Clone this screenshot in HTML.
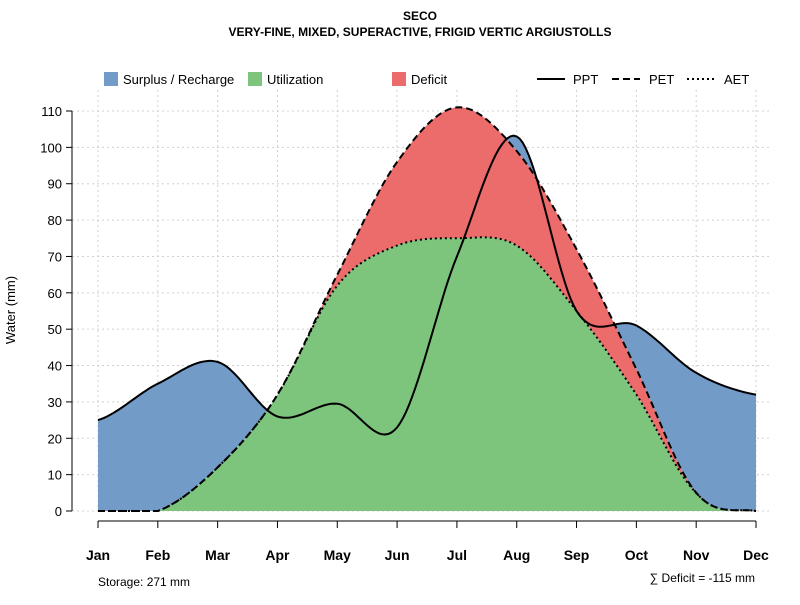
<!DOCTYPE html>
<html><head><meta charset="utf-8"><style>
body{margin:0;background:#fff}
svg{font-family:"Liberation Sans",sans-serif}
</style></head><body>
<svg id="c" width="800" height="600">
<text x="420" y="20" text-anchor="middle" font-size="12" font-weight="bold">SECO</text>
<text x="420" y="36" text-anchor="middle" font-size="12" font-weight="bold">VERY-FINE, MIXED, SUPERACTIVE, FRIGID VERTIC ARGIUSTOLLS</text>
<g id="grid"></g><g id="fills"></g><g id="lines"></g><g id="axes"></g>
<g font-size="13">
<rect x="104" y="72" width="14" height="14" fill="#729bc8"/>
<text x="123" y="84">Surplus / Recharge</text>
<rect x="248" y="72" width="14" height="14" fill="#7dc47c"/>
<text x="267" y="84">Utilization</text>
<rect x="392" y="72" width="14" height="14" fill="#ec6b6b"/>
<text x="411" y="84">Deficit</text>
<line x1="537" y1="79" x2="565" y2="79" stroke="#000" stroke-width="2"/>
<text x="573" y="84">PPT</text>
<line x1="612" y1="79" x2="640" y2="79" stroke="#000" stroke-width="2" stroke-dasharray="7,4"/>
<text x="649" y="84">PET</text>
<line x1="687" y1="79" x2="715" y2="79" stroke="#000" stroke-width="2" stroke-dasharray="2,3"/>
<text x="724" y="84">AET</text>
</g>
<text x="15" y="310" transform="rotate(-90 15 310)" text-anchor="middle" font-size="13">Water (mm)</text>
<text x="98" y="586" font-size="12">Storage: 271 mm</text>
<text x="755" y="582" text-anchor="end" font-size="12">∑ Deficit = -115 mm</text>
</svg>
<script>
const months=["Jan","Feb","Mar","Apr","May","Jun","Jul","Aug","Sep","Oct","Nov","Dec"];
const ppt=[25,35,41,26,29.5,23,70,103,55,51,38,32];
const pet=[0,0,12,32,65,96,111,99,72,39,5,0];
const aet=[0,0,12,32,62,73,75,73,55,32,5,0];
const yTicks=[0,10,20,30,40,50,60,70,80,90,100,110];
const NS="http://www.w3.org/2000/svg";
const X=i=>98+i*(756-98)/11, Y=v=>511-v*(400/110);
function mk(t,a,p){const e=document.createElementNS(NS,t);for(const k in a)e.setAttribute(k,a[k]);document.getElementById(p).appendChild(e);return e;}
function smooth(arr){const pts=[];const n=arr.length;for(let i=0;i<n-1;i++){const p0=arr[Math.max(0,i-1)],p1=arr[i],p2=arr[i+1],p3=arr[Math.min(n-1,i+2)];for(let s=0;s<20;s++){const t=s/20,t2=t*t,t3=t2*t;const v=0.5*((2*p1)+(-p0+p2)*t+(2*p0-5*p1+4*p2-p3)*t2+(-p0+3*p1-3*p2+p3)*t3);pts.push([i+t,Math.max(0,v)]);}}pts.push([n-1,arr[n-1]]);return pts;}
const sP=smooth(ppt),sE=smooth(pet),sA=smooth(aet).map((p,k)=>[p[0],Math.min(p[1],sE[k][1])]);
const path=a=>a.map((p,i)=>(i?"L":"M")+X(p[0]).toFixed(1)+","+Y(p[1]).toFixed(1)).join("");
yTicks.forEach(v=>{const gl=mk("line",{x1:72,x2:770,y1:Y(v),y2:Y(v),stroke:"#d0d0d0","stroke-dasharray":"2,3"},"grid");});
months.forEach((m,i)=>{const gl=mk("line",{x1:X(i),x2:X(i),y1:90,y2:511,stroke:"#d0d0d0","stroke-dasharray":"2,3"},"grid");});
const upperEdge=sP.map((p,k)=>[p[0],Math.max(p[1],sE[k][1])]);
const bArea=mk("path",{d:path(upperEdge)+path(sE.slice().reverse()).replace("M","L")+"Z",fill:"#729bc8"},"fills");

const rArea=mk("path",{d:path(sE)+path(sA.slice().reverse()).replace("M","L")+"Z",fill:"#ec6b6b"},"fills");

const gArea=mk("path",{d:path(sA)+"L"+X(11)+","+Y(0)+"L"+X(0)+","+Y(0)+"Z",fill:"#7dc47c"},"fills");

const l1=mk("path",{d:path(sP),fill:"none",stroke:"#000","stroke-width":2},"lines");

const l2=mk("path",{d:path(sE),fill:"none",stroke:"#000","stroke-width":2,"stroke-dasharray":"7,4"},"lines");

const l3=mk("path",{d:path(sA),fill:"none",stroke:"#000","stroke-width":2,"stroke-dasharray":"2,3"},"lines");

const ya=mk("line",{x1:72,x2:72,y1:Y(0),y2:Y(110),stroke:"#000"},"axes");

yTicks.forEach(v=>{mk("line",{x1:66,x2:72,y1:Y(v),y2:Y(v),stroke:"#000"},"axes");const t=mk("text",{x:62,y:Y(v)+5,"text-anchor":"end","font-size":13},"axes");t.textContent=v;});
const xa=mk("line",{x1:X(0),x2:X(11),y1:521,y2:521,stroke:"#000"},"axes");

months.forEach((m,i)=>{mk("line",{x1:X(i),x2:X(i),y1:521,y2:528,stroke:"#000"},"axes");const t=mk("text",{x:X(i),y:560,"text-anchor":"middle","font-size":14,"font-weight":"bold"},"axes");t.textContent=m;});
</script>
</body></html>
